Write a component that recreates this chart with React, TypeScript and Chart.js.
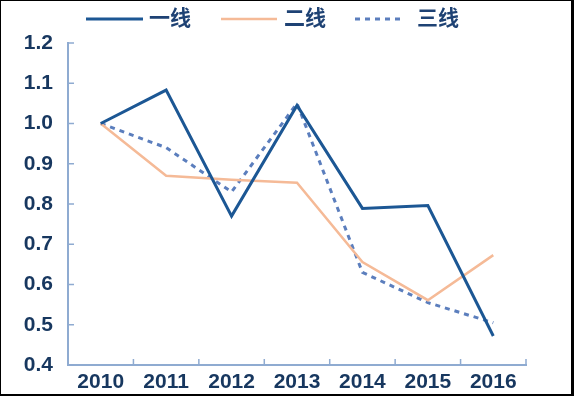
import React, { useEffect, useRef } from 'react';
import { Chart, registerables } from 'chart.js';

Chart.register(...registerables);

const years = ['2010', '2011', '2012', '2013', '2014', '2015', '2016'];
const seriesNames = ['一线', '二线', '三线'];
const tier1 = [1.0, 1.083, 0.77, 1.045, 0.789, 0.796, 0.472];
const tier2 = [1.0, 0.87, 0.86, 0.853, 0.656, 0.561, 0.673];
const tier3 = [1.0, 0.94, 0.83, 1.05, 0.63, 0.555, 0.505];
const yTickLabels = ['0.4', '0.5', '0.6', '0.7', '0.8', '0.9', '1.0', '1.1', '1.2'];

const AXIS = '#8fabd1';
const TEXT = '#17375f';
const FONT = '"Liberation Sans", Arial, "Noto Sans CJK SC", sans-serif';

const legendPos = [
  { x0: 86, x1: 143, tx: 149 },
  { x0: 221, x1: 277, tx: 284 },
  { x0: 355, x1: 405, tx: 417 },
];

const legendPlugin = {
  id: 'topLegend',
  afterDraw(chart: any) {
    const ctx = chart.ctx;
    ctx.save();
    chart.data.datasets.forEach((ds: any, i: number) => {
      const p = legendPos[i];
      const y = 19;
      ctx.beginPath();
      ctx.strokeStyle = ds.borderColor;
      ctx.lineWidth = ds.borderWidth;
      ctx.setLineDash(ds.borderDash || []);
      ctx.moveTo(p.x0, y);
      ctx.lineTo(p.x1, y);
      ctx.stroke();
      ctx.setLineDash([]);
      ctx.fillStyle = '#1e4274';
      ctx.font = `bold 21px ${FONT}`;
      ctx.textBaseline = 'middle';
      ctx.textAlign = 'left';
      ctx.fillText(ds.label, p.tx, y);
    });
    ctx.restore();
  },
};

const innerTicksPlugin = {
  id: 'innerTicks',
  afterDraw(chart: any) {
    const { ctx, chartArea } = chart;
    const ys = chart.scales.y;
    ctx.save();
    ctx.strokeStyle = AXIS;
    ctx.lineWidth = 1.5;
    ctx.beginPath();
    ys.ticks.forEach((_t: any, i: number) => {
      const py = ys.getPixelForTick(i);
      ctx.moveTo(chartArea.left, py);
      ctx.lineTo(chartArea.left + 6, py);
    });
    const n = years.length;
    const step = (chartArea.right - chartArea.left) / n;
    for (let k = 1; k <= n; k++) {
      const px = chartArea.left + k * step;
      ctx.moveTo(px, chartArea.bottom);
      ctx.lineTo(px, chartArea.bottom - 6);
    }
    ctx.stroke();
    ctx.restore();
  },
};

export default function App() {
  const ref = useRef<HTMLCanvasElement | null>(null);

  useEffect(() => {
    document.body.style.margin = '0';
    const canvas = ref.current;
    if (!canvas) return;
    const chart = new Chart(canvas, {
      type: 'line',
      data: {
        labels: years,
        datasets: [
          {
            label: seriesNames[0],
            data: tier1,
            borderColor: '#1c5794',
            borderWidth: 3,
            pointRadius: 0,
            tension: 0,
            fill: false,
          },
          {
            label: seriesNames[1],
            data: tier2,
            borderColor: '#f5ba97',
            borderWidth: 2.5,
            pointRadius: 0,
            tension: 0,
            fill: false,
          },
          {
            label: seriesNames[2],
            data: tier3,
            borderColor: '#5b7ebd',
            borderWidth: 3,
            borderDash: [5, 5],
            pointRadius: 0,
            tension: 0,
            fill: false,
          },
        ] as any,
      },
      options: {
        animation: false,
        responsive: false,
        maintainAspectRatio: false,
        layout: { padding: { top: 43, right: 48, bottom: 0, left: 0 } },
        plugins: {
          legend: { display: false },
          tooltip: { enabled: false },
        },
        scales: {
          x: {
            type: 'category',
            offset: true,
            grid: { display: false, drawTicks: false },
            border: { display: true, color: AXIS, width: 2 },
            ticks: {
              color: TEXT,
              font: { family: FONT, size: 21, weight: 'bold' },
              padding: 5,
              maxRotation: 0,
              autoSkip: false,
            },
            afterFit(scale: any) {
              scale.height = 31;
            },
          },
          y: {
            min: 0.4,
            max: 1.2,
            grid: { display: false, drawTicks: false },
            border: { display: true, color: AXIS, width: 2 },
            afterBuildTicks(scale: any) {
              scale.ticks = yTickLabels.map((v) => ({ value: parseFloat(v) }));
            },
            ticks: {
              color: TEXT,
              font: { family: FONT, size: 21, weight: 'bold' },
              padding: 15,
              callback: (_v: any, i: number) => yTickLabels[i],
            },
            afterFit(scale: any) {
              scale.width = 68;
            },
          },
        },
      } as any,
      plugins: [legendPlugin, innerTicksPlugin],
    });
    return () => chart.destroy();
  }, []);

  return (
    <div style={{ position: 'relative', width: 574, height: 396, background: '#fff' }}>
      <canvas ref={ref} width={574} height={396} style={{ position: 'absolute', left: 0, top: 0, width: 574, height: 396 }} />
      <div
        style={{
          position: 'absolute',
          left: 0,
          top: 0,
          width: 574,
          height: 396,
          boxSizing: 'border-box',
          borderLeft: '1px solid #000',
          borderTop: '1px solid #000',
          borderRight: '3px solid #000',
          borderBottom: '2px solid #000',
          pointerEvents: 'none',
        }}
      />
    </div>
  );
}
